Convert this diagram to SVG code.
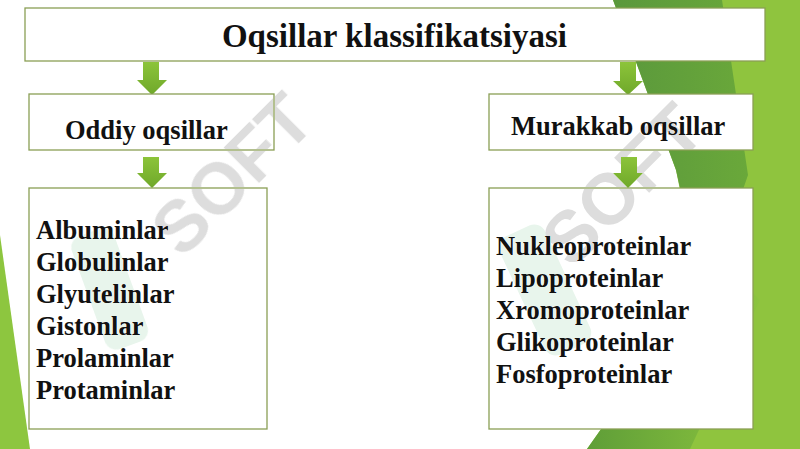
<svg xmlns="http://www.w3.org/2000/svg" width="800" height="449" viewBox="0 0 800 449">
<defs>
<style>
.box{fill:#ffffff;stroke:#8a9f55;stroke-width:1.3}
.t{font-family:"Liberation Serif","Times New Roman",serif;font-weight:bold;fill:#111111}
.arr{fill:url(#ag)}
.wm{font-family:"Liberation Sans",Arial,sans-serif;font-weight:bold;fill:#dddddd}
</style>
<linearGradient id="ag" x1="0" y1="0" x2="0" y2="1">
<stop offset="0" stop-color="#8cc43a"/>
<stop offset="1" stop-color="#6fa82a"/>
</linearGradient>
<linearGradient id="dg" x1="0" y1="0" x2="1" y2="0">
<stop offset="0" stop-color="#5a983c"/>
<stop offset="1" stop-color="#6aa83a"/>
</linearGradient>
<linearGradient id="bg2" x1="0" y1="0" x2="1" y2="0">
<stop offset="0" stop-color="#5f9e38"/>
<stop offset="1" stop-color="#8cc43e"/>
</linearGradient>
</defs>
<rect width="800" height="449" fill="#ffffff"/>
<g id="background">
<polygon points="0,235 30,449 0,449" fill="#8dc63f"/>
<polygon points="613,0 800,0 800,449 587,449 700,290 676,170" fill="#8fc43e"/>
<polygon points="613,0 722,0 748,175 705,300 676,170" fill="url(#dg)"/>
<polygon points="587,449 690,449 760,300 720,260" fill="url(#bg2)"/>
</g>
<g id="connectors">
<polygon class="arr" points="143,62 159,62 159,80 167,80 152,95 137,80 143,80"/>
<polygon class="arr" points="143,157 159,157 159,173 167,173 152,188 137,173 143,173"/>
<polygon class="arr" points="620,62 636,62 636,81 643,81 628,95 613,81 620,81"/>
<polygon class="arr" points="621,157 637,157 637,173 643,173 628,188 613,173 621,173"/>
</g>
<g id="title">
<rect class="box" x="25" y="8" width="740" height="53"/>
<text class="t" x="394.5" y="47" font-size="33" text-anchor="middle">Oqsillar klassifikatsiyasi</text>
</g>
<g id="oddiy">
<rect class="box" x="29" y="94" width="245" height="56"/>
<text class="t" x="65" y="139" font-size="26.5">Oddiy oqsillar</text>
</g>
<g id="murakkab">
<rect class="box" x="489" y="94" width="264" height="56"/>
<text class="t" x="511" y="135" font-size="26.5">Murakkab oqsillar</text>
</g>
<g id="oddiy-list">
<rect class="box" x="29" y="188" width="238" height="241"/>
<text class="t" font-size="26.5">
<tspan x="36" y="239">Albuminlar</tspan>
<tspan x="36" y="271">Globulinlar</tspan>
<tspan x="36" y="303">Glyutelinlar</tspan>
<tspan x="36" y="335">Gistonlar</tspan>
<tspan x="36" y="367">Prolaminlar</tspan>
<tspan x="36" y="399">Protaminlar</tspan>
</text>
</g>
<g id="murakkab-list">
<rect class="box" x="489" y="188" width="264" height="241"/>
<text class="t" font-size="26.5">
<tspan x="496" y="255">Nukleoproteinlar</tspan>
<tspan x="496" y="287">Lipoproteinlar</tspan>
<tspan x="496" y="319">Xromoproteinlar</tspan>
<tspan x="496" y="351">Glikoproteinlar</tspan>
<tspan x="496" y="383">Fosfoproteinlar</tspan>
</text>
</g>
<g id="watermark" style="mix-blend-mode:darken">
<rect x="-25" y="-60" width="45" height="120" rx="12" fill="#e8f5ec" transform="translate(112,288) rotate(-20)"/>
<rect x="-25" y="-65" width="50" height="130" rx="12" fill="#e8f5ec" transform="translate(545,290) rotate(-25)"/>
<text class="wm" font-size="72" text-anchor="middle" transform="translate(250,192) rotate(-45)">SOFT</text>
<text class="wm" font-size="72" text-anchor="middle" transform="translate(640,202) rotate(-45)">SOFT</text>
</g>
</svg>
